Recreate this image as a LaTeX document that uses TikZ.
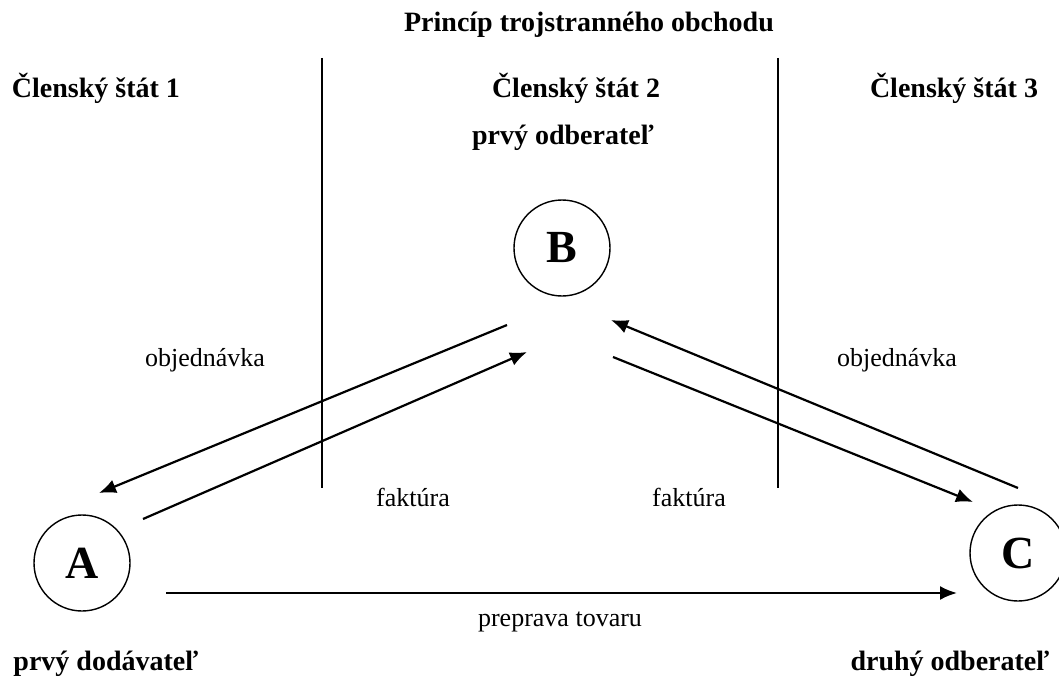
\documentclass[tikz,border=0pt]{standalone}
\usepackage{fontspec}
\setmainfont{Liberation Serif}
\usepackage{tikz}
\usetikzlibrary{arrows.meta}

\tikzset{
  stat/.style={font=\bfseries\fontsize{28}{30}\selectfont},
  popis/.style={font=\fontsize{26}{28}\selectfont},
  firma/.style={circle,draw,line width=1.4pt,minimum size=96pt,inner sep=0pt,
    font=\bfseries\fontsize{46}{48}\selectfont},
  tok/.style={line width=2.2pt,-{Latex[length=17pt,width=14pt]}},
  hranica/.style={line width=1.1pt}
}

\begin{document}
\begin{tikzpicture}[x=1pt,y=-1pt]
  \useasboundingbox (0,0) rectangle (1059,679);
  % hlavicka
  \node[stat] (nadpis) at (589,25) {Princíp trojstranného obchodu};
  \node[stat] (stat1) at (96,88) {Členský štát 1};
  \node[stat] (stat2) at (576,88) {Členský štát 2};
  \node[stat] (stat3) at (954,88) {Členský štát 3};
  \node[stat] (odb1) at (563,138) {prvý odberateľ};
  % hranice statov
  \draw[hranica] (322,58) -- (322,488);
  \draw[hranica] (778,58) -- (778,488);
  % subjekty
  \node[firma] (A) at (82,563) {A};
  \node[firma] (B) at (562,248) {B};
  \node[firma] (C) at (1018,553) {C};
  \node[stat] (dod) at (106,664) {prvý dodávateľ};
  \node[stat] (odb2) at (950,664) {druhý odberateľ};
  % konce sipok
  \coordinate (ba1) at (507,325);
  \coordinate (ba2) at (99,493);
  \coordinate (ab1) at (143,519);
  \coordinate (ab2) at (527,352);
  \coordinate (bc1) at (613,357);
  \coordinate (bc2) at (973,502);
  \coordinate (cb1) at (1018,488);
  \coordinate (cb2) at (611,320);
  \coordinate (ac1) at (166,593);
  \coordinate (ac2) at (957,593);
  \draw[tok] (ba1) -- (ba2);
  \draw[tok] (ab1) -- (ab2);
  \draw[tok] (bc1) -- (bc2);
  \draw[tok] (cb1) -- (cb2);
  \draw[tok] (ac1) -- (ac2);
  % popisy
  \node[popis] (obj1) at (205,360) {objednávka};
  \node[popis] (obj2) at (897,360) {objednávka};
  \node[popis] (fak1) at (413,497) {faktúra};
  \node[popis] (fak2) at (689,497) {faktúra};
  \node[popis] (prep) at (560,622) {preprava tovaru};
\end{tikzpicture}
\end{document}
